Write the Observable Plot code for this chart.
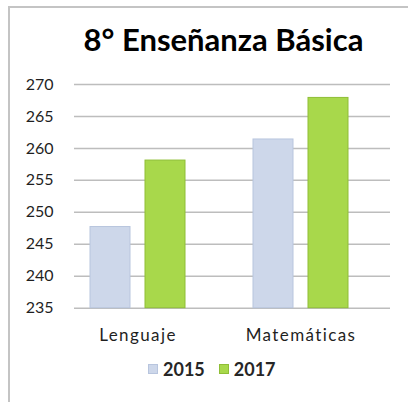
<!DOCTYPE html>
<html>
<head>
<meta charset="utf-8">
<script src="https://cdn.jsdelivr.net/npm/d3@7"></script>
<script src="https://cdn.jsdelivr.net/npm/@observablehq/plot@0.6"></script>
<style>
  html, body { margin: 0; padding: 0; background: #fff; }
  body { width: 408px; height: 402px; position: relative; overflow: hidden; font-family: Lato, "Open Sans", sans-serif; }
  #frame { position: absolute; left: 8px; top: 6px; width: 402px; height: 400px;
           border-left: 2px solid #c4c4c4; border-top: 2px solid #c4c4c4; box-sizing: border-box; }
  #title { position: absolute; left: 0; top: 20px; width: 447px; text-align: center;
           font-family: Lato, sans-serif; font-weight: 700; font-size: 31px; color: #000; line-height: 38px; }
  #chart { position: absolute; left: 0; top: 60px; }
  #legend { position: absolute; top: 359px; left: 148px; display: flex; align-items: center;
            font-family: Lato, sans-serif; font-weight: 700; font-size: 18px; color: #262626; line-height: 20px; }
  #legend .sw { width: 10px; height: 10px; margin-right: 5px; }
  #legend .item { display: flex; align-items: center; margin-right: 14px; }
  #chart [aria-label="x-axis tick label"] text { letter-spacing: 1.4px; }
</style>
</head>
<body>
<div id="frame"></div>
<div id="title">8° Enseñanza Básica</div>
<div id="chart"></div>
<div id="legend"></div>
<script>
const categories = ["Lenguaje", "Matemáticas"];
const years = ["2015", "2017"];
const values2015 = [247.7, 261.4];
const values2017 = [258.1, 267.9];
const yTicks = [235, 240, 245, 250, 255, 260, 265, 270];
const colors = ["#cdd7ea", "#a8d84b"];
const strokes = ["#b8c5de", "#8fbe36"];

const rows2015 = categories.map((c, i) => ({category: c, value: values2015[i]}));
const rows2017 = categories.map((c, i) => ({category: c, value: values2017[i]}));

const chart = Plot.plot({
  width: 408,
  height: 290,
  marginLeft: 74,
  marginRight: 18,
  marginTop: 24,
  marginBottom: 42.3,
  style: {fontFamily: "Lato, sans-serif", fontSize: "16px", color: "#262626", background: "transparent"},
  x: {domain: categories, paddingInner: 0.415, paddingOuter: 0.171, align: 0.285, label: null},
  y: {domain: [235, 270], label: null},
  marks: [
    Plot.ruleY(yTicks, {stroke: "#bdbdbd", strokeWidth: 1.5}),
    Plot.barY(rows2015, {x: "category", y1: 235, y2: "value", fill: colors[0], stroke: strokes[0], strokeWidth: 1, insetRight: 55}),
    Plot.barY(rows2017, {x: "category", y1: 235, y2: "value", fill: colors[1], stroke: strokes[1], strokeWidth: 1, insetLeft: 55}),
    Plot.axisY({ticks: yTicks, tickSize: 0, tickPadding: 21, fontSize: 16, fill: "#1f1f1f", label: null}),
    Plot.axisX({tickSize: 0, tickPadding: 21, fontSize: 17, fill: "#1f1f1f", label: null})
  ]
});
document.getElementById("chart").appendChild(chart);

const legend = document.getElementById("legend");
years.forEach((y, i) => {
  const item = document.createElement("div");
  item.className = "item";
  const sw = document.createElement("div");
  sw.className = "sw";
  sw.style.background = colors[i];
  sw.style.border = "1px solid " + strokes[i];
  sw.style.boxSizing = "border-box";
  const t = document.createElement("span");
  t.textContent = y;
  item.appendChild(sw);
  item.appendChild(t);
  legend.appendChild(item);
});
</script>
</body>
</html>
